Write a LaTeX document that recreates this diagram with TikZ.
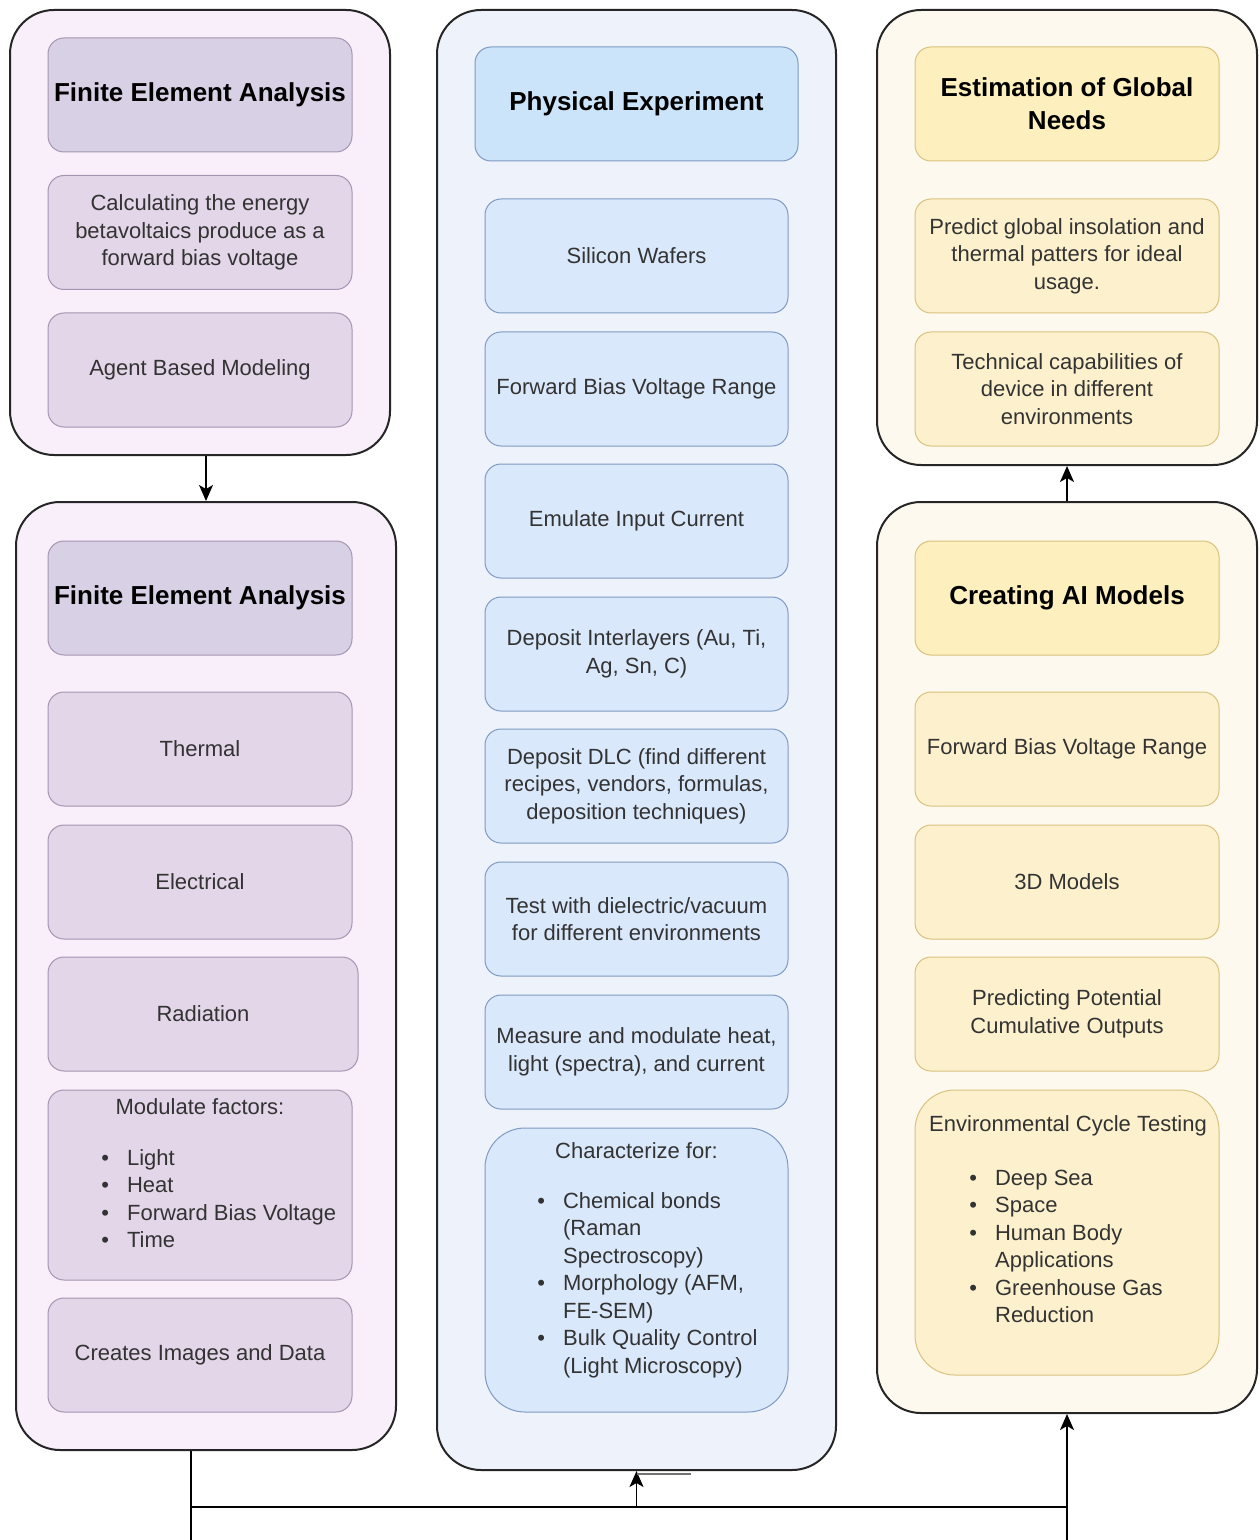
\documentclass[tikz,border=0pt]{standalone}
\usepackage{fontspec}
\setmainfont{Liberation Sans}
\usetikzlibrary{arrows.meta, positioning}
\definecolor{lilacbg}{HTML}{F9EFFB}
\definecolor{lilachead}{HTML}{D8D1E5}
\definecolor{lilaccard}{HTML}{E2D6E8}
\definecolor{lilacline}{HTML}{A594B2}
\definecolor{bluebg}{HTML}{EEF3FB}
\definecolor{bluehead}{HTML}{CCE4F9}
\definecolor{bluecard}{HTML}{DAE8FB}
\definecolor{blueline}{HTML}{7E9AC2}
\definecolor{sandbg}{HTML}{FEF9EE}
\definecolor{sandhead}{HTML}{FDF0BE}
\definecolor{sandcard}{HTML}{FDF1CD}
\definecolor{sandline}{HTML}{D8C27E}

\begin{document}
\begin{tikzpicture}[x=0.5pt, y=-0.5pt,
  panel/.style={draw=black!85, line width=1pt, rounded corners=22pt, minimum width=190pt},
  card/.style={draw, line width=0.5pt, rounded corners=8pt, minimum width=152pt, minimum height=57pt,
               align=center, inner sep=1pt, text=black!80, font=\fontsize{11}{13.75}\selectfont},
  head/.style={card, text=black, font=\fontsize{13}{16.5}\selectfont\bfseries},
  plain/.style={inner sep=0pt, text=black!80, font=\fontsize{11}{13.75}\selectfont},
  arr/.style={-{Stealth[length=8pt, width=7pt, inset=2pt]}, line width=0.7pt}]

  \fill[white] (0,0) rectangle (1259,1540);
  \useasboundingbox (0,0) rectangle (1259,1540);

  % simulation column
  \node[panel, fill=lilacbg, minimum height=222.5pt] (fea) at (200,232.5) {};
  \node[head, fill=lilachead, draw=lilacline] (feahead) at (200,95) {Finite Element Analysis};
  \foreach \n/\y/\l in {feacalc/232.5/{Calculating the energy\\betavoltaics produce as a\\forward bias voltage},
                        feaagent/370/{Agent Based Modeling}}
    \node[card, fill=lilaccard, draw=lilacline] (\n) at (200,\y) {\l};

  \node[panel, fill=lilacbg, minimum height=474pt] (fem) at (206,976) {};
  \node[head, fill=lilachead, draw=lilacline] (femhead) at (200,598) {Finite Element Analysis};
  \foreach \n/\y/\l in {thermal/749/Thermal, electrical/882/Electrical, creates/1355/{Creates Images and Data}}
    \node[card, fill=lilaccard, draw=lilacline] (\n) at (200,\y) {\l};
  \node[card, fill=lilaccard, draw=lilacline, minimum width=155pt] (radiation) at (203,1014) {Radiation};
  \node[card, fill=lilaccard, draw=lilacline, minimum height=95pt] (modulate) at (200,1185) {};
  \node[plain] (modtitle) at (200,1107) {Modulate factors:};
  \node[plain, anchor=base west] (modlist) at (101,1165)
    {\begin{tabular}[t]{@{}l@{\hspace{9pt}}l@{}}
      \textbullet & Light\\ \textbullet & Heat\\ \textbullet & Forward Bias Voltage\\ \textbullet & Time
     \end{tabular}};

  % experiment column
  \node[panel, fill=bluebg, minimum width=199.5pt, minimum height=730pt] (phys) at (636.5,740) {};
  \node[head, fill=bluehead, draw=blueline, minimum width=161.5pt] (physhead) at (636.5,104) {Physical Experiment};
  \foreach \n/\y/\l in {wafers/256/{Silicon Wafers},
                        fbvrange/389/{Forward Bias Voltage Range},
                        current/521/{Emulate Input Current},
                        interlayers/654/{Deposit Interlayers (Au, Ti,\\Ag, Sn, C)},
                        dlc/786/{Deposit DLC (find different\\recipes, vendors, formulas,\\deposition techniques)},
                        dielectric/919/{Test with dielectric/vacuum\\for different environments},
                        measure/1052/{Measure and modulate heat,\\light (spectra), and current}}
    \node[card, fill=bluecard, draw=blueline, minimum width=151.5pt] (\n) at (636.5,\y) {\l};
  \node[card, fill=bluecard, draw=blueline, minimum width=151.5pt, minimum height=142pt,
        rounded corners=20pt] (charac) at (636.5,1270) {};
  \node[plain] (chartitle) at (636.5,1151) {Characterize for:};
  \node[plain, anchor=base west] (charlist) at (537,1208)
    {\begin{tabular}[t]{@{}l@{\hspace{9pt}}l@{}}
      \textbullet & Chemical bonds\\ & (Raman\\ & Spectroscopy)\\
      \textbullet & Morphology (AFM,\\ & FE-SEM)\\
      \textbullet & Bulk Quality Control\\ & (Light Microscopy)
     \end{tabular}};

  % modelling column
  \node[panel, fill=sandbg, minimum height=227.5pt] (est) at (1067,237.5) {};
  \node[head, fill=sandhead, draw=sandline] (esthead) at (1067,104) {Estimation of Global\\Needs};
  \foreach \n/\y/\l in {insolation/256/{Predict global insolation and\\thermal patters for ideal\\usage.},
                        capability/389/{Technical capabilities of\\device in different\\environments}}
    \node[card, fill=sandcard, draw=sandline] (\n) at (1067,\y) {\l};

  \node[panel, fill=sandbg, minimum height=455.5pt] (ai) at (1067,957.5) {};
  \node[head, fill=sandhead, draw=sandline] (aihead) at (1067,598) {Creating AI Models};
  \foreach \n/\y/\l in {aifbv/749/{Forward Bias Voltage Range}, models/882/{3D Models},
                        outputs/1014/{Predicting Potential\\Cumulative Outputs}}
    \node[card, fill=sandcard, draw=sandline] (\n) at (1067,\y) {\l};
  \node[card, fill=sandcard, draw=sandline, minimum height=142.5pt, rounded corners=20pt] (cycle) at (1067,1232.5) {};
  \node[plain] (cycletitle) at (1068,1126) {Environmental Cycle Testing};
  \node[plain, anchor=base west] (cyclelist) at (969,1185)
    {\begin{tabular}[t]{@{}l@{\hspace{9pt}}l@{}}
      \textbullet & Deep Sea\\ \textbullet & Space\\ \textbullet & Human Body\\ & Applications\\
      \textbullet & Greenhouse Gas\\ & Reduction
     \end{tabular}};

  % connectors
  \coordinate (jl) at (191,1507);
  \coordinate (jr) at (1067,1507);
  \coordinate (jb) at (0,1540);
  \draw[arr] (fea.south -| fem.north) -- (fem.north);
  \draw[arr] (est.south |- ai.north) -- (est.south);
  \draw[line width=0.7pt] (fem.south -| jl) -- (jl |- jb);
  \draw[line width=0.7pt] (jl) -- (jr);
  \draw[arr] (jl -| phys.south) -- (phys.south);
  \draw[arr] (jr |- jb) -- (ai.south);
  \draw[black!55, line width=0.6pt] ([yshift=-1.5pt]phys.south) -- ++(54,0);
\end{tikzpicture}
\end{document}
